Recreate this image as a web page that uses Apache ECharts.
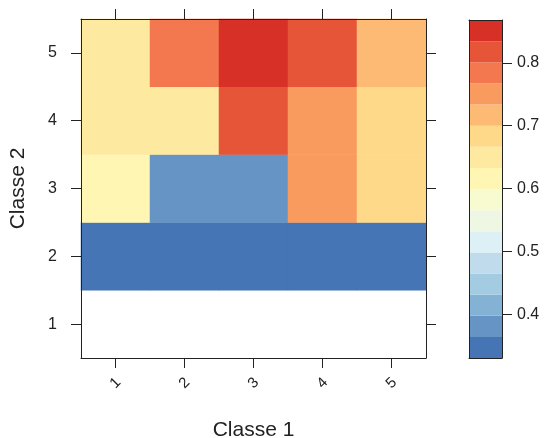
<!DOCTYPE html>
<html lang="fr">
<head>
<meta charset="utf-8">
<title>Classe 1 / Classe 2</title>
<script src="https://cdn.jsdelivr.net/npm/echarts@6/dist/echarts.min.js"></script>
<style>
  html, body { margin: 0; padding: 0; background: #fff; }
  #chart { width: 546px; height: 438px; }
</style>
</head>
<body>
<div id="chart"></div>
<script type="text/javascript">
    // categories des deux axes
    let classe1 = ['1', '2', '3', '4', '5'];
    let classe2 = ['1', '2', '3', '4', '5'];

    // valeurs par ligne (Classe 2), colonnes = Classe 1 ; null = NA
    let row1 = [null, null, null, null, null];
    let row2 = [0.331, 0.331, 0.331, 0.331, 0.331];
    let row3 = [0.616, 0.381, 0.381, 0.751, 0.683];
    let row4 = [0.650, 0.650, 0.818, 0.751, 0.683];
    let row5 = [0.650, 0.784, 0.868, 0.818, 0.717];

    // echelle de couleurs (du bas vers le haut)
    let colorMin = 0.331;
    let colorMax = 0.868;
    let bandColors = [
        '#4575B4', '#6694C4', '#84B2D4', '#A3CBE1', '#C0DCEC', '#DCF0F6',
        '#EEF6E4', '#F8FBCF', '#FEF6B2', '#FEE9A0', '#FED98A', '#FDBA74',
        '#F99B5E', '#F3784F', '#E65538', '#D73027'
    ];
    let colorTicks = [0.4, 0.5, 0.6, 0.7, 0.8];

    let rows = [row1, row2, row3, row4, row5];
    let heatData = [];
    rows.forEach((row, yi) => {
        row.forEach((v, xi) => {
            if (v !== null) heatData.push([xi, yi, v]);
        });
    });

    let step = (colorMax - colorMin) / bandColors.length;
    let pieces = bandColors.map((c, i) => {
        let p = { gte: colorMin + i * step - 1e-9, color: c };
        if (i < bandColors.length - 1) p.lt = colorMin + (i + 1) * step;
        else p.lte = colorMax + 1e-9;
        return p;
    });

    // colonne de la legende : barres empilees
    let barSeries = [{
        type: 'bar', xAxisIndex: 2, yAxisIndex: 2, stack: 'cb',
        data: [colorMin], barWidth: '100%', silent: true,
        itemStyle: { color: 'rgba(0,0,0,0)' }
    }];
    bandColors.forEach((c) => {
        barSeries.push({
            type: 'bar', xAxisIndex: 2, yAxisIndex: 2, stack: 'cb',
            data: [step], barWidth: '100%', silent: true,
            itemStyle: { color: c }
        });
    });

    let lineStyle = { color: '#222', width: 1 };
    let tickStyle = { show: true, inside: false, length: 10, alignWithLabel: true, lineStyle: lineStyle };
    let font = 'Liberation Sans, Arial, sans-serif';

    let chart = echarts.init(document.getElementById('chart'), null, { renderer: 'canvas' });

    let option = {
        animation: false,
        backgroundColor: '#fff',
        grid: [
            { left: 81, top: 19, width: 345, height: 339, containLabel: false, outerBoundsMode: 'none' },
            { left: 469, top: 20, width: 33, height: 338, containLabel: false, outerBoundsMode: 'none' }
        ],
        xAxis: [
            {
                type: 'category', gridIndex: 0, position: 'bottom', data: classe1, z: 10,
                axisLine: { show: true, lineStyle: lineStyle }, axisTick: tickStyle,
                axisLabel: { rotate: 45, margin: 25, align: 'center', verticalAlign: 'middle',
                             fontSize: 15, color: '#222', fontFamily: font },
                splitLine: { show: false },
                name: 'Classe 1', nameLocation: 'middle', nameGap: 62,
                nameTextStyle: { fontSize: 21, color: '#222', fontFamily: font }
            },
            {
                type: 'category', gridIndex: 0, position: 'top', data: classe1, z: 10,
                axisLine: { show: true, lineStyle: lineStyle }, axisTick: tickStyle,
                axisLabel: { show: false }, splitLine: { show: false }
            },
            {
                type: 'category', gridIndex: 1, position: 'bottom', data: [''], z: 10,
                axisLine: { show: true, lineStyle: lineStyle }, axisTick: { show: false },
                axisLabel: { show: false }, splitLine: { show: false }
            },
            {
                type: 'category', gridIndex: 1, position: 'top', data: [''], z: 10,
                axisLine: { show: true, lineStyle: lineStyle }, axisTick: { show: false },
                axisLabel: { show: false }, splitLine: { show: false }
            }
        ],
        yAxis: [
            {
                type: 'category', gridIndex: 0, position: 'left', data: classe2, z: 10,
                axisLine: { show: true, lineStyle: lineStyle }, axisTick: tickStyle,
                axisLabel: { margin: 24, fontSize: 16, color: '#222', fontFamily: font },
                splitLine: { show: false },
                name: 'Classe 2', nameLocation: 'middle', nameGap: 52,
                nameTextStyle: { fontSize: 21, color: '#222', fontFamily: font }
            },
            {
                type: 'category', gridIndex: 0, position: 'right', data: classe2, z: 10,
                axisLine: { show: true, lineStyle: lineStyle }, axisTick: tickStyle,
                axisLabel: { show: false }, splitLine: { show: false }
            },
            {
                type: 'value', gridIndex: 1, position: 'right', min: colorMin, max: colorMax, z: 10,
                axisLine: { show: true, lineStyle: lineStyle },
                axisTick: { show: true, inside: false, length: 10, lineStyle: lineStyle, customValues: colorTicks },
                axisLabel: { margin: 15, fontSize: 16, color: '#222', fontFamily: font,
                             customValues: colorTicks, formatter: (v) => v.toFixed(1) },
                splitLine: { show: false }
            },
            {
                type: 'value', gridIndex: 1, position: 'left', min: colorMin, max: colorMax, z: 10,
                axisLine: { show: true, lineStyle: lineStyle }, axisTick: { show: false },
                axisLabel: { show: false }, splitLine: { show: false }
            }
        ],
        visualMap: {
            type: 'piecewise', show: false, seriesIndex: 0, pieces: pieces
        },
        series: [
            {
                type: 'heatmap', xAxisIndex: 0, yAxisIndex: 0, data: heatData,
                itemStyle: { borderWidth: 0 }, emphasis: { disabled: true }
            }
        ].concat(barSeries)
    };

    chart.setOption(option);
</script>
</body>
</html>
